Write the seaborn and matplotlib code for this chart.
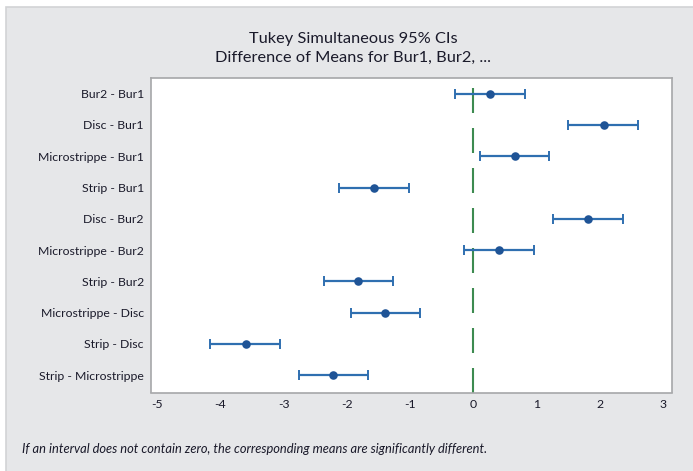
import numpy as np
import pandas as pd
import matplotlib
matplotlib.use("Agg")
import matplotlib.pyplot as plt
import seaborn as sns
from matplotlib.patches import Rectangle

# Tukey pairwise comparisons (difference, lower, upper)
comparisons = ["Bur2 - Bur1", "Disc - Bur1", "Microstrippe - Bur1", "Strip - Bur1",
               "Disc - Bur2", "Microstrippe - Bur2", "Strip - Bur2",
               "Microstrippe - Disc", "Strip - Disc", "Strip - Microstrippe"]
diff = [0.27, 2.07, 0.66, -1.57, 1.82, 0.41, -1.82, -1.40, -3.60, -2.22]
lower = [-0.29, 1.50, 0.10, -2.13, 1.26, -0.15, -2.36, -1.94, -4.17, -2.76]
upper = [0.81, 2.61, 1.20, -1.01, 2.37, 0.96, -1.27, -0.84, -3.05, -1.66]
xticks = [-5, -4, -3, -2, -1, 0, 1, 2, 3]

df = pd.DataFrame({"comp": comparisons, "diff": diff, "lower": lower, "upper": upper})
df["pos"] = np.arange(len(df))

sns.set_style("white")
plt.rcParams["font.family"] = ["Lato", "DejaVu Sans"]

bg = "#e6e7e9"
blue = "#2f6fb0"
dark_blue = "#1f5496"
green = "#3d8b50"
txt = "#1a1a2a"

fig = plt.figure(figsize=(6.93, 4.71), dpi=100)
fig.patch.set_facecolor("white")
fig.patches.append(Rectangle((6 / 693, -0.01), 1, (471 - 7) / 471 + 0.01, transform=fig.transFigure,
                             facecolor=bg, edgecolor="#d2d3d5", linewidth=1.2, zorder=-5))

ax = fig.add_axes([150.7 / 693, 1 - 392.5 / 471, (672 - 150.7) / 693, (392.5 - 78) / 471])
ax.set_zorder(2)
ax.set_facecolor("white")

ax.axvline(0, color=green, lw=1.5, linestyle=(0, (12, 7.2)), zorder=1)
ax.errorbar(df["diff"], df["pos"],
            xerr=[df["diff"] - df["lower"], df["upper"] - df["diff"]],
            fmt="none", ecolor=blue, elinewidth=1.6, capsize=3.5, capthick=1.4, zorder=2)
sns.scatterplot(data=df, x="diff", y="pos", ax=ax, color=dark_blue, s=38,
                edgecolor=dark_blue, linewidth=0, zorder=3)

ax.set_xlim(-5.1, 3.14)
ax.set_ylim(9.55, -0.5)
ax.set_xticks(xticks)
ax.set_xticklabels([str(t) for t in xticks])
ax.set_yticks(df["pos"])
ax.set_yticklabels(comparisons)
ax.set_xlabel("")
ax.set_ylabel("")

for s in ax.spines.values():
    s.set_color("#a6a7a9")
    s.set_linewidth(1.2)
ax.tick_params(axis="both", which="both", length=3, width=0.8, color="#8a8a8a",
               labelsize=8.8, labelcolor=txt, pad=2)
ax.tick_params(axis="x", pad=1.5)

fig.text(353 / 693, 1 - 43 / 471, "Tukey Simultaneous 95% CIs", ha="center", va="baseline",
         fontsize=11.8, color=txt)
fig.text(353 / 693, 1 - 62 / 471, "Difference of Means for Bur1, Bur2, ...", ha="center",
         va="baseline", fontsize=11.8, color=txt)
fig.text(22 / 693, 1 - 449 / 471,
         "If an interval does not contain zero, the corresponding means are significantly different.",
         ha="left", va="center", fontsize=9.3, style="italic", color=txt)

fig.savefig("out.png", dpi=100)
